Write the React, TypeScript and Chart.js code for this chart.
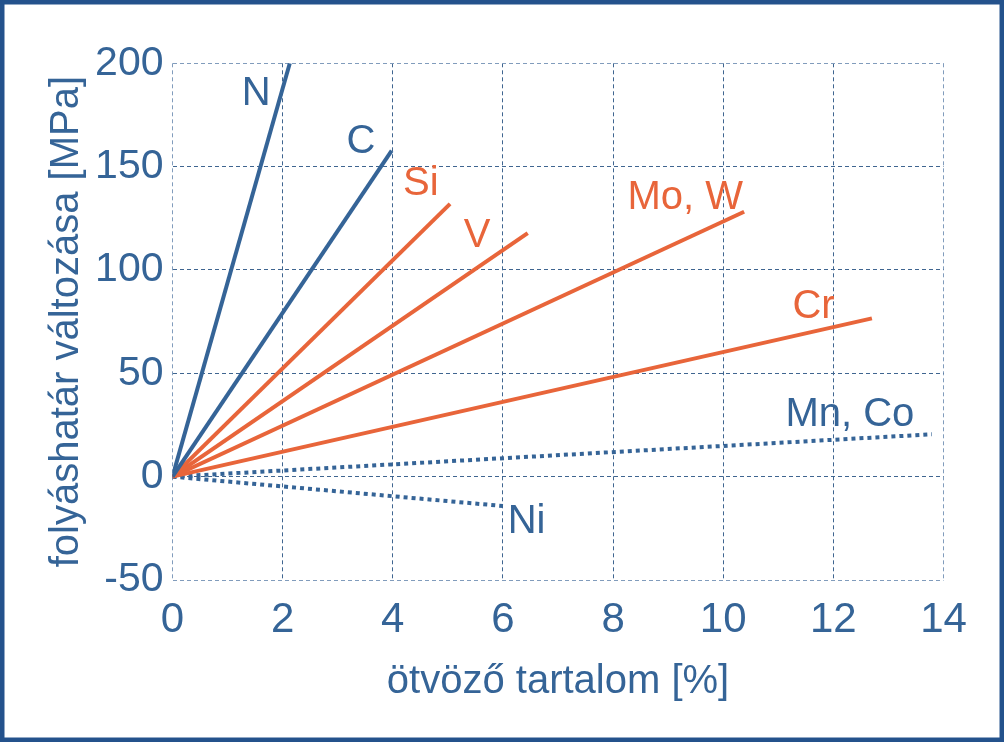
import React, { useEffect, useRef } from "react";
import { Chart, registerables } from "chart.js";

Chart.register(...registerables);

const SERIES_NAMES = ["N", "C", "Si", "V", "Mo, W", "Cr", "Mn, Co", "Ni"];
const START_X = [0, 0, 0, 0, 0, 0, 0, 0];
const START_Y = [0, 0, 0, 0, 0, 0, 0, 0];
const END_X = [2.13, 3.98, 5.04, 6.45, 10.38, 12.7, 13.79, 6.0];
const END_Y = [200, 157.7, 132, 117.8, 128.2, 76.6, 20.5, -14.2];
const LABEL_X = [1.52, 3.42, 4.51, 5.53, 9.31, 11.64, 12.3, 6.43];
const LABEL_Y = [185, 162, 141.7, 116.4, 134.7, 82.2, 29.8, -21.8];
const SERIES_GROUP = ["blue", "blue", "orange", "orange", "orange", "orange", "blue", "blue"];
const SERIES_DOTTED = [false, false, false, false, false, false, true, true];

const X_MIN = 0;
const X_MAX = 14;
const X_STEP = 2;
const Y_MIN = -50;
const Y_MAX = 200;
const Y_STEP = 50;

const X_TITLE = "ötvöző tartalom [%]";
const Y_TITLE = "folyáshatár változása [MPa]";

const BLUE = "#356497";
const ORANGE = "#E8653A";
const FRAME = "#24528C";
const GRID_DARK = "#3F6590";
const GRID_LIGHT = "#819CBC";
const FONT = "'Liberation Sans', Arial, sans-serif";

const colorOf = (g: string) => (g === "blue" ? BLUE : ORANGE);

export default function App() {
  const ref = useRef<HTMLCanvasElement | null>(null);

  useEffect(() => {
    document.body.style.margin = "0";
    const canvas = ref.current;
    if (!canvas) return;

    const labelPlugin = {
      id: "seriesLabels",
      afterDatasetsDraw(chart: any) {
        const { ctx, scales } = chart;
        ctx.save();
        ctx.font = `40px ${FONT}`;
        ctx.textAlign = "center";
        ctx.textBaseline = "middle";
        SERIES_NAMES.forEach((name, i) => {
          ctx.fillStyle = colorOf(SERIES_GROUP[i]);
          ctx.fillText(
            name,
            scales.x.getPixelForValue(LABEL_X[i]),
            scales.y.getPixelForValue(LABEL_Y[i])
          );
        });
        ctx.restore();
      },
      afterDraw(chart: any) {
        const { ctx } = chart;
        ctx.save();
        ctx.strokeStyle = FRAME;
        ctx.lineWidth = 4.5;
        ctx.strokeRect(2.25, 2.25, 999.5, 737.5);
        ctx.restore();
      },
    };

    const datasets = SERIES_NAMES.map((name, i) => ({
      label: name,
      data: [
        { x: START_X[i], y: START_Y[i] },
        { x: END_X[i], y: END_Y[i] },
      ],
      showLine: true,
      borderColor: colorOf(SERIES_GROUP[i]),
      backgroundColor: colorOf(SERIES_GROUP[i]),
      borderWidth: 4,
      borderDash: SERIES_DOTTED[i] ? [4, 4] : [],
      borderCapStyle: "butt",
      pointRadius: 0,
      pointHoverRadius: 0,
      tension: 0,
    }));

    const gridColor = (edgeA: number, edgeB: number) => (c: any) =>
      c.tick && (c.tick.value === edgeA || c.tick.value === edgeB) ? GRID_LIGHT : GRID_DARK;

    const chart = new Chart(canvas, {
      type: "scatter",
      data: { datasets: datasets as any },
      options: {
        responsive: false,
        animation: false,
        devicePixelRatio: 1,
        layout: { padding: { left: 8, right: 62.5, top: 63.3, bottom: 8 } },
        plugins: {
          legend: { display: false },
          tooltip: { enabled: false },
        },
        scales: {
          x: {
            type: "linear",
            min: X_MIN,
            max: X_MAX,
            afterFit: (s: any) => {
              s.height = 155;
            },
            ticks: {
              stepSize: X_STEP,
              color: BLUE,
              font: { family: FONT, size: 42 },
              padding: 15,
              maxRotation: 0,
            },
            grid: {
              drawTicks: false,
              color: gridColor(X_MIN, X_MAX) as any,
              lineWidth: 1,
            },
            border: { display: false, dash: [4, 3] },
            title: {
              display: true,
              text: X_TITLE,
              color: BLUE,
              font: { family: FONT, size: 40 },
              padding: { top: 0, bottom: 29 },
            },
          },
          y: {
            type: "linear",
            min: Y_MIN,
            max: Y_MAX,
            afterFit: (s: any) => {
              s.width = 164.5;
            },
            ticks: {
              stepSize: Y_STEP,
              color: BLUE,
              font: { family: FONT, size: 41 },
              padding: 9,
            },
            grid: {
              drawTicks: false,
              color: gridColor(Y_MIN, Y_MAX) as any,
              lineWidth: 1,
            },
            border: { display: false, dash: [4, 3] },
            title: {
              display: true,
              text: Y_TITLE,
              color: BLUE,
              font: { family: FONT, size: 40 },
              padding: { top: 35, bottom: 0 },
            },
          },
        },
      },
      plugins: [labelPlugin],
    });

    return () => chart.destroy();
  }, []);

  return (
    <div style={{ width: 1006, height: 743, position: "relative", background: "#fff" }}>
      <canvas ref={ref} width={1006} height={743} style={{ display: "block" }} />
    </div>
  );
}
